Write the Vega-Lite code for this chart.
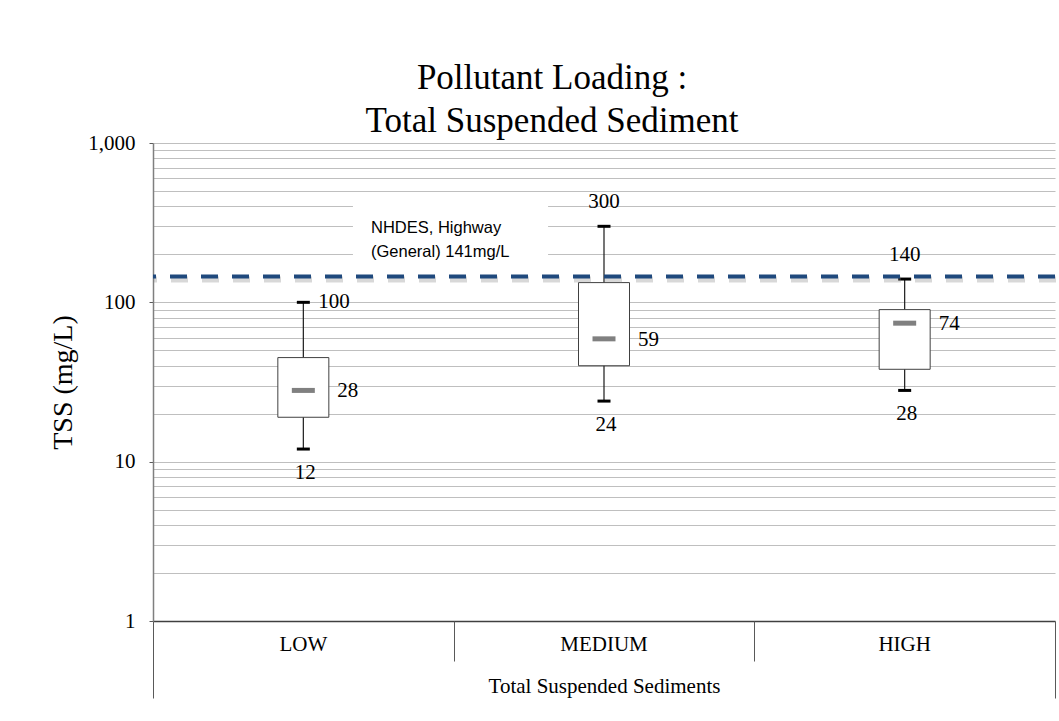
{
  "$schema": "https://vega.github.io/schema/vega-lite/v6.json",
  "width": 902,
  "height": 478,
  "autosize": {"type": "none"},
  "padding": {"left": 153, "top": 143, "right": 4, "bottom": 100},
  "background": "white",
  "config": {
    "view": {"stroke": null},
    "font": "Liberation Serif",
    "axis": {"labelFont": "Liberation Serif", "titleFont": "Liberation Serif", "labelColor": "black", "titleColor": "black", "titleFontWeight": "normal"}
  },
  "title": {
    "text": ["Pollutant Loading :", "Total Suspended Sediment"],
    "font": "Liberation Serif",
    "fontSize": 35,
    "fontWeight": "normal",
    "color": "black",
    "anchor": "middle",
    "frame": "group",
    "dx": -52,
    "lineHeight": 43,
    "offset": -7
  },
  "layer": [
    {
      "data": {"values": [
        {"category": "LOW", "min": 12, "q1": 19, "median": 28, "q3": 45, "max": 100},
        {"category": "MEDIUM", "min": 24, "q1": 40, "median": 59, "q3": 133, "max": 300},
        {"category": "HIGH", "min": 28, "q1": 38, "median": 74, "q3": 90, "max": 140}
      ]},
      "encoding": {
        "x": {
          "field": "category", "type": "nominal", "sort": ["LOW", "MEDIUM", "HIGH"],
          "scale": {"paddingInner": 0, "paddingOuter": 0},
          "axis": {
            "orient": "bottom",
            "title": "Total Suspended Sediments", "titleFontSize": 21, "titlePadding": 21,
            "labelFontSize": 21, "labelAngle": 0, "labelPadding": 12,
            "ticks": false, "domain": true, "domainColor": "#404040", "domainWidth": 1.5, "grid": false
          }
        }
      },
      "layer": [
        {
          "mark": {"type": "rule", "color": "#1a1a1a", "strokeWidth": 1.2},
          "encoding": {
            "y": {
              "field": "min", "type": "quantitative",
              "scale": {"type": "log", "domain": [1, 1000]},
              "axis": {
                "values": [1,2,3,4,5,6,7,8,9,10,20,30,40,50,60,70,80,90,100,200,300,400,500,600,700,800,900,1000],
                "grid": true, "gridColor": "#BFBFBF", "gridWidth": 1,
                "domainColor": "#7F7F7F", "domainWidth": 1.5,
                "tickSize": 4,
                "tickColor": {"condition": {"test": "datum.value == 1 || datum.value == 10 || datum.value == 100 || datum.value == 1000", "value": "#595959"}, "value": "transparent"},
                "labelExpr": "indexof([1,10,100,1000], datum.value) >= 0 ? format(datum.value, ',') : ''",
                "labelOverlap": false,
                "labelFontSize": 21, "labelPadding": 14,
                "title": "TSS (mg/L)", "titleFontSize": 28, "titlePadding": 10
              }
            },
            "y2": {"field": "max"}
          }
        },
        {
          "mark": {"type": "bar", "size": 51, "fill": "white", "stroke": "#404040", "strokeWidth": 1},
          "encoding": {"y": {"field": "q1", "type": "quantitative"}, "y2": {"field": "q3"}}
        },
        {
          "mark": {"type": "tick", "size": 23, "thickness": 5, "color": "#808080", "opacity": 1},
          "encoding": {"y": {"field": "median", "type": "quantitative"}}
        },
        {
          "mark": {"type": "tick", "size": 13, "thickness": 3, "color": "black", "opacity": 1},
          "encoding": {"y": {"field": "min", "type": "quantitative"}}
        },
        {
          "mark": {"type": "tick", "size": 13, "thickness": 3, "color": "black", "opacity": 1},
          "encoding": {"y": {"field": "max", "type": "quantitative"}}
        },
        {
          "transform": [{"filter": "datum.category == 'LOW'"}],
          "mark": {"type": "text", "align": "left", "baseline": "middle", "dx": 15, "fontSize": 21, "font": "Liberation Serif", "color": "black"},
          "encoding": {"y": {"field": "max", "type": "quantitative"}, "text": {"field": "max", "type": "quantitative"}}
        },
        {
          "transform": [{"filter": "datum.category != 'LOW'"}],
          "mark": {"type": "text", "align": "center", "baseline": "middle", "dy": -24, "fontSize": 21, "font": "Liberation Serif", "color": "black"},
          "encoding": {"y": {"field": "max", "type": "quantitative"}, "text": {"field": "max", "type": "quantitative"}}
        },
        {
          "mark": {"type": "text", "align": "left", "baseline": "middle", "dx": 34, "dy": 1, "fontSize": 21, "font": "Liberation Serif", "color": "black"},
          "encoding": {"y": {"field": "median", "type": "quantitative"}, "text": {"field": "median", "type": "quantitative"}}
        },
        {
          "mark": {"type": "text", "align": "center", "baseline": "middle", "dx": 2, "dy": 24, "fontSize": 21, "font": "Liberation Serif", "color": "black"},
          "encoding": {"y": {"field": "min", "type": "quantitative"}, "text": {"field": "min", "type": "quantitative"}}
        }
      ]
    },
    {
      "data": {"values": [{"note": "NHDES, Highway\n(General) 141mg/L", "limit": 145}]},
      "layer": [
        {
          "mark": {"type": "rule", "color": "#7F7F7F", "opacity": 0.3, "strokeWidth": 6, "strokeDash": [17, 14], "yOffset": 3, "xOffset": 1},
          "encoding": {"y": {"field": "limit", "type": "quantitative"}}
        },
        {
          "mark": {"type": "rule", "color": "#1F497D", "strokeWidth": 4, "strokeDash": [17, 14]},
          "encoding": {"y": {"field": "limit", "type": "quantitative"}}
        },
        {
          "mark": {"type": "rect", "fill": "white"},
          "encoding": {
            "x": {
              "datum": 0.665, "type": "quantitative",
              "scale": {"domain": [0, 3]},
              "axis": {
                "orient": "bottom", "values": [0, 1, 2, 3], "labels": false, "domain": false, "grid": false, "title": null,
                "ticks": true, "tickColor": "#595959", "tickWidth": 1,
                "tickSize": {"condition": {"test": "datum.value == 0 || datum.value == 3", "value": 77}, "value": 40}
              }
            },
            "x2": {"datum": 1.314},
            "y": {"datum": 169, "type": "quantitative"},
            "y2": {"datum": 452}
          }
        },
        {
          "mark": {"type": "text", "align": "left", "baseline": "middle", "font": "Liberation Sans", "fontSize": 16.5, "lineBreak": "\n", "lineHeight": 24, "color": "black"},
          "encoding": {
            "x": {"datum": 0.725, "type": "quantitative"},
            "y": {"datum": 293, "type": "quantitative"},
            "text": {"field": "note"}
          }
        }
      ]
    }
  ],
  "resolve": {"scale": {"x": "independent"}, "axis": {"x": "independent"}}
}
